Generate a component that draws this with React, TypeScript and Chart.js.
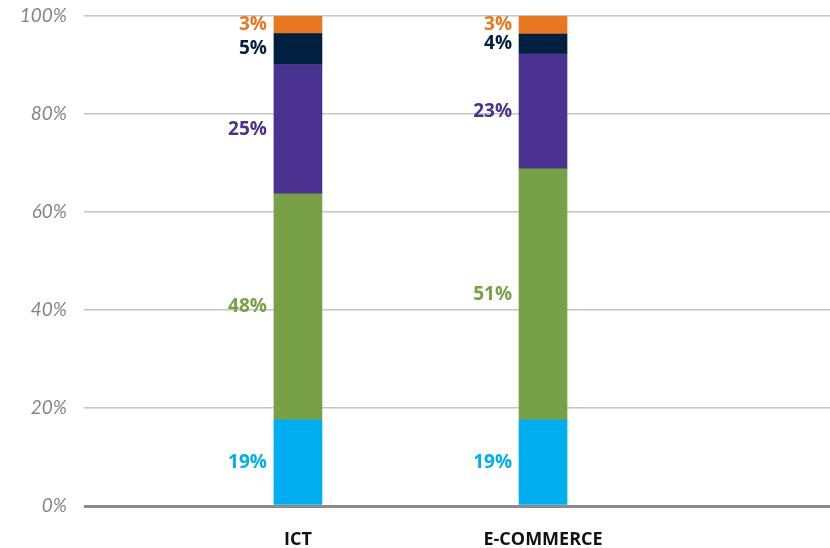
import React, { useEffect, useRef } from "react";
import { Chart, registerables } from "chart.js";

Chart.register(...registerables);

const categories = ["ICT", "E-COMMERCE"];
const categoryPositions = [1, 2];
const seriesNames = ["Blue", "Green", "Purple", "Navy", "Orange"];
const seriesColors = ["#00AEEF", "#78A046", "#4A3290", "#00203F", "#E87722"];
// segment sizes (% of bar)
const ictValues = [17.6, 46.1, 26.4, 6.3, 3.7];
const ecommerceValues = [17.6, 51.2, 23.5, 4.0, 3.7];
// labels as printed in the picture
const ictLabels = ["19%", "48%", "25%", "5%", "3%"];
const ecommerceLabels = ["19%", "51%", "23%", "4%", "3%"];
const yTicks = [0, 20, 40, 60, 80, 100];

const labelPlugin = {
  id: "segLabels",
  afterDatasetsDraw(chart: any) {
    const ctx = chart.ctx;
    ctx.save();
    ctx.font = "bold 19px 'Open Sans', sans-serif";
    ctx.textAlign = "right";
    ctx.textBaseline = "middle";
    chart.data.datasets.forEach((ds: any, di: number) => {
      const meta = chart.getDatasetMeta(di);
      meta.data.forEach((el: any, i: number) => {
        const props = el.getProps(["x", "y", "base", "width"], true);
        const text = (i === 0 ? ictLabels : ecommerceLabels)[di];
        ctx.fillStyle = seriesColors[di];
        ctx.fillText(text, props.x - props.width / 2 - 7, (props.y + props.base) / 2);
      });
    });
    ctx.restore();
  },
};

export default function App() {
  const ref = useRef<HTMLCanvasElement | null>(null);
  useEffect(() => {
    if (!ref.current) return;
    const chart = new Chart(ref.current, {
      type: "bar",
      data: {
        datasets: seriesNames.map((name, di) => ({
          label: name,
          data: [ictValues[di], ecommerceValues[di]].map((v, i) => ({ x: categoryPositions[i], y: v })),
          backgroundColor: seriesColors[di],
          borderWidth: 0,
          barThickness: 48,
        })),
      },
      options: {
        animation: false,
        responsive: false,
        maintainAspectRatio: false,
        layout: { padding: { top: 16, right: 0, bottom: 0, left: 0 } },
        plugins: { legend: { display: false }, tooltip: { enabled: false } },
        scales: {
          x: {
            type: "linear",
            stacked: true,
            offset: false,
            min: 0.127,
            max: 3.171,
            grid: { display: false },
            border: { display: false },
            afterBuildTicks: (s: any) => {
              s.ticks = categoryPositions.map((v) => ({ value: v }));
            },
            afterFit: (s: any) => {
              s.height = 42;
              s.paddingLeft = 0;
              s.paddingRight = 0;
            },
            ticks: {
              autoSkip: false,
              maxRotation: 0,
              padding: 15,
              color: "#111111",
              font: { family: "'Open Sans', sans-serif", size: 18, weight: "bold" },
              callback: (_v: any, i: number) => categories[i],
            },
          },
          y: {
            stacked: true,
            min: 0,
            max: 100,
            afterBuildTicks: (s: any) => {
              s.ticks = yTicks.map((v) => ({ value: v }));
            },
            afterFit: (s: any) => {
              s.width = 84;
              s.paddingTop = 0;
              s.paddingBottom = 0;
            },
            border: { display: false },
            grid: {
              drawTicks: false,
              color: (c: any) => (c.tick && c.tick.value === 0 ? "#8a8a8a" : "#c4c4c4"),
              lineWidth: (c: any) => (c.tick && c.tick.value === 0 ? 3 : 1.5),
            },
            ticks: {
              padding: 17,
              color: "#858585",
              font: { family: "Lato, sans-serif", size: 19, style: "italic", weight: "normal" },
              callback: (v: any) => v + "%",
            },
          },
        },
      },
      plugins: [labelPlugin],
    } as any);
    return () => chart.destroy();
  }, []);
  return (
    <div style={{ position: "absolute", left: 0, top: 0, width: 830, height: 548 }}>
      <canvas ref={ref} width={830} height={548} style={{ width: 830, height: 548 }} />
    </div>
  );
}
